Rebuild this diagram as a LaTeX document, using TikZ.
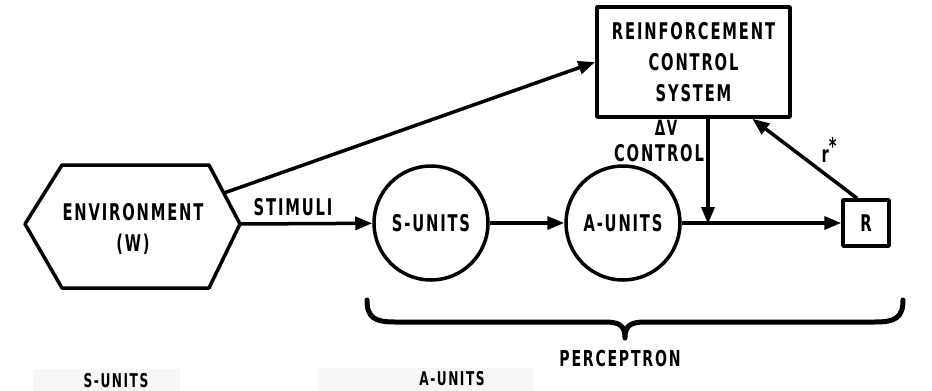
\documentclass[tikz,border=0pt]{standalone}
\usepackage{fontspec}
\setmainfont{DejaVu Sans}[FakeStretch=0.64, LetterSpace=8]
\usetikzlibrary{arrows.meta}
\begin{document}
\begin{tikzpicture}[x=1pt, y=-1pt,
  line width=3.5pt, line join=round,
  lbl/.style={font=\bfseries\fontsize{23}{31}\selectfont, inner sep=0pt, align=center},
  small/.style={font=\bfseries\fontsize{19}{20}\selectfont, inner sep=0pt},
  unit/.style={circle, draw, minimum size=114pt, lbl},
  box/.style={draw, lbl},
  flow/.style={-{Triangle[length=17pt, width=13pt]}},
]
\useasboundingbox (0,0) rectangle (932,391);

% faint paper bands behind the lower captions
\fill[black!3] (33,369) rectangle (180,391);
\fill[black!3] (318,368) rectangle (533,391);

% environment hexagon
\draw (25,224) -- (62,165) -- (209,165) -- (240,224) -- (209,288) -- (62,288) -- cycle;
\node[lbl] (env) at (133,229) {ENVIRONMENT\\(W)};
\coordinate (envR) at (240,224);
\coordinate (envTR) at (224,193);

% perceptron units
\node[unit] (S) at (431,223) {S-UNITS};
\node[unit] (A) at (623,223) {A-UNITS};
\node[box, minimum width=46pt, minimum height=46pt] (R) at (866,223) {R};

% reinforcement control system
\node[box, minimum width=193pt, minimum height=110pt] (rcs) at (693.5,62)
  {REINFORCEMENT\\CONTROL\\SYSTEM};

% labels
\node[lbl] (stim) at (293,207) {STIMULI};
\node[lbl, font=\bfseries\fontsize{21}{22}\selectfont] (dv) at (666,128) {ΔV};
\node[lbl] (ctl) at (659,153) {CONTROL};
\node[lbl] (rstar) at (829,150) {r\raisebox{0.6ex}{*}};

% connectors
\coordinate (j) at (708,224);
\draw[flow] (envR) -- (S);
\draw[flow] (envTR) -- (rcs.west);
\draw[flow] (S) -- (A);
\draw[flow] (A) -- (R);
\draw[flow] (rcs.south -| j) -- (j);
\draw[flow] (R.110) -- (rcs.-44);

% brace over the perceptron
\draw[line width=5pt, line cap=round]
  (367,300) .. controls (367,318) and (375,322) .. (395,322)
  -- (605,322) .. controls (620,322) and (625,326) .. (625,338)
  .. controls (625,326) and (630,322) .. (645,322)
  -- (875,322) .. controls (895,322) and (903,318) .. (903,300);
\node[lbl, font=\bfseries\fontsize{22}{24}\selectfont] (perc) at (620,358) {PERCEPTRON};

% lower captions
\node[small] (sl) at (116,381) {S-UNITS};
\node[small] (al) at (452,379) {A-UNITS};
\end{tikzpicture}
\end{document}
